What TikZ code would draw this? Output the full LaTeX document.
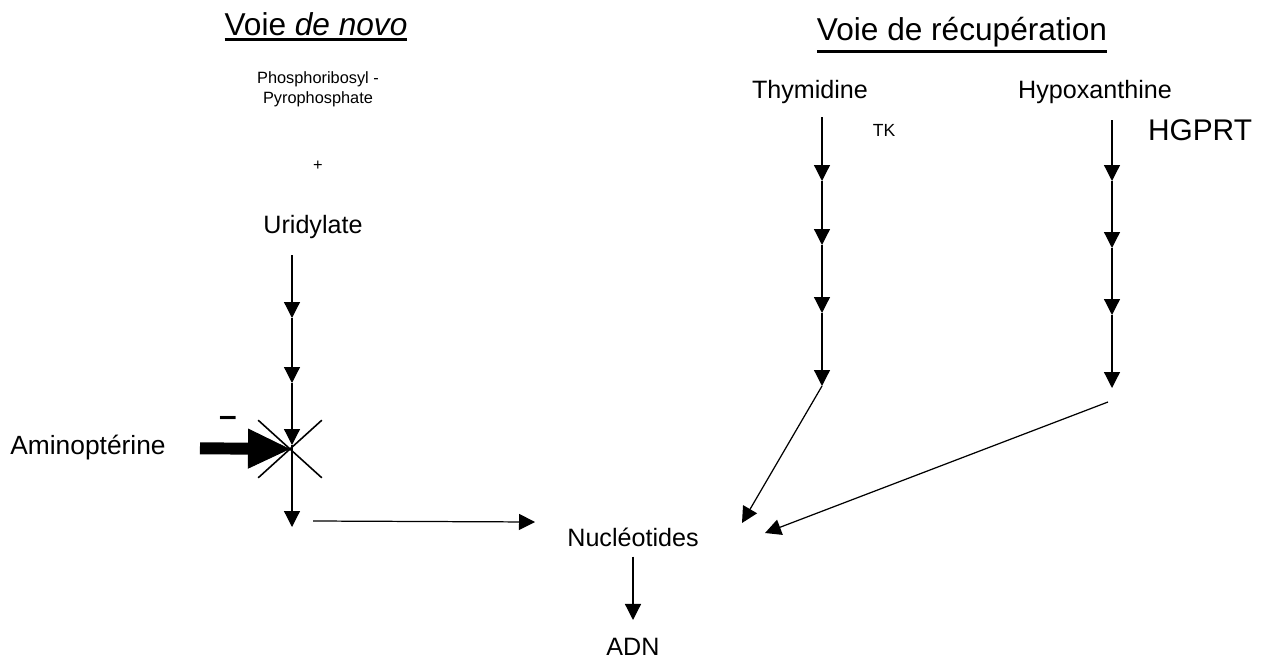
\documentclass[tikz,border=0pt]{standalone}
\usepackage{fontspec}
\setmainfont{Liberation Sans}
\usetikzlibrary{arrows.meta, positioning, shapes.misc}

\newcommand{\souligne}[1]{\setbox0=\hbox{#1}\leavevmode\rlap{\rule[-\dimexpr\dp0+3.4pt\relax]{\wd0}{1.6pt}}\box0}

\begin{document}
\begin{tikzpicture}[x=0.02cm, y=-0.02cm, >={Triangle[length=0.32cm, width=0.32cm]}, fleche/.style={draw, line width=0.7pt, ->}, inhibe/.style={draw, line width=6.8pt, -{Triangle[length=0.84cm, width=0.8cm, line width=0.5pt]}}]
    % Define styles for titles, molecules, precursors and steps
    \tikzstyle{titre} = [font=\fontsize{18}{21}\selectfont, anchor=base, inner sep=0pt]
    \tikzstyle{molecule} = [font=\fontsize{14.3}{17}\selectfont, inner sep=0pt]
    \tikzstyle{precurseur} = [font=\fontsize{9.3}{11.3}\selectfont, align=center, inner sep=0pt]
    \tikzstyle{etape} = [coordinate]

    \useasboundingbox (0,0) rectangle (1265,663);

    % Titles
    \node [titre] (novo) at (316,35) {\souligne{Voie \textit{de novo}}};
    \node [titre] (recup) at (962,40) {\souligne{Voie de récupération}};

    % De novo pathway
    \node [precurseur] (prpp) at (318,89) {Phosphoribosyl -\\Pyrophosphate};
    \node [precurseur, below of=prpp, node distance=1.54cm] (plus) {+};
    \node [molecule] (uri) at (313,227) {Uridylate};
    \node [molecule, font=\fontsize{15}{18}\selectfont] (amino) at (88,448) {Aminoptérine};
    \node [draw, cross out, line width=0.9pt, minimum width=1.24cm, minimum height=1.12cm] (croix) at (290,449) {};
    \node [font=\fontsize{18}{18}\bfseries\selectfont, inner sep=0pt] (moins) at (228,421) {--};

    % Salvage pathway
    \node [molecule] (thy) at (810,92) {Thymidine};
    \node [molecule] (hypo) at (1095,92) {Hypoxanthine};
    \node [font=\fontsize{10}{12}\selectfont, inner sep=0pt] (tk) at (884,130) {TK};
    \node [font=\fontsize{17}{20}\selectfont, inner sep=0pt] (hgprt) at (1200,130) {HGPRT};

    % Products
    \node [molecule] (nucl) at (633,537) {Nucléotides};
    \node [molecule, below of=nucl, node distance=2.2cm] (adn) {ADN};

    % Steps along each pathway
    \coordinate (u0) at (292,255);
    \coordinate (u1) at (292,318);
    \coordinate (u2) at (292,383);
    \coordinate (u3) at (292,445);
    \coordinate (u4) at (292,527);
    \coordinate (g0) at (313,521);
    \coordinate (nuclG) at (535,522);
    \coordinate (t0) at (822,117);
    \coordinate (t1) at (822,181);
    \coordinate (t2) at (822,245);
    \coordinate (t3) at (822,313);
    \coordinate (t4) at (822,386);
    \coordinate (nuclT) at (742,523);
    \coordinate (h0) at (1112,120);
    \coordinate (h1) at (1112,181);
    \coordinate (h2) at (1112,248);
    \coordinate (h3) at (1112,315);
    \coordinate (h4) at (1112,388);
    \coordinate (h5) at (1108,402);
    \coordinate (nuclH) at (765,533);

    % Draw edges
    \draw [fleche] (u0) -- (u1);
    \draw [fleche] (u1) -- (u2);
    \draw [fleche] (u2) -- (u3);
    \draw [fleche] (u3) -- (u4);
    \draw [fleche] (g0) -- (nuclG);
    \draw [inhibe, shorten <=0.68cm] (amino.east) -- (croix.center);

    \draw [fleche] (t0) -- (t1);
    \draw [fleche] (t1) -- (t2);
    \draw [fleche] (t2) -- (t3);
    \draw [fleche] (t3) -- (t4);
    \draw [fleche] (t4) -- (nuclT);

    \draw [fleche] (h0) -- (h1);
    \draw [fleche] (h1) -- (h2);
    \draw [fleche] (h2) -- (h3);
    \draw [fleche] (h3) -- (h4);
    \draw [fleche] (h5) -- (nuclH);

    \draw [fleche, shorten <=0.2cm, shorten >=0.36cm] (nucl) -- (adn);
\end{tikzpicture}
\end{document}
